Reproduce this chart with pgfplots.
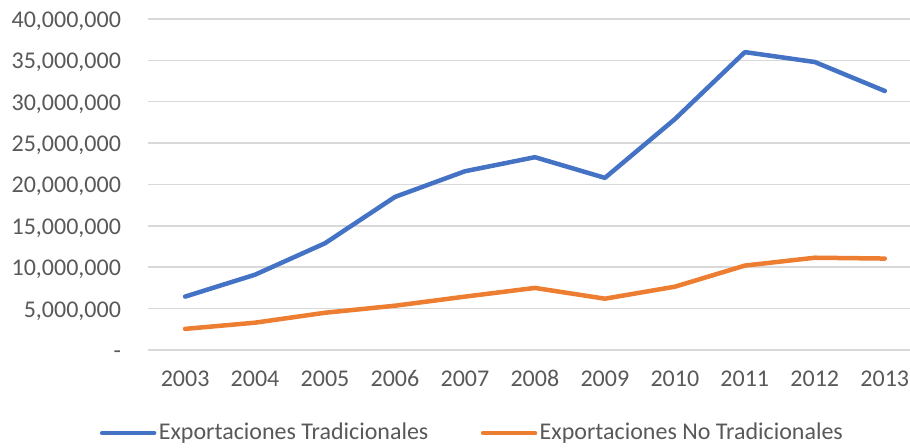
\documentclass[border=0pt]{standalone}
\usepackage{pgfplots}
\pgfplotsset{compat=1.18}
\usepackage{fontspec}
\setmainfont{Carlito}
\definecolor{cblue}{HTML}{4472C4}
\definecolor{corange}{HTML}{ED7D31}
\definecolor{cgrid}{HTML}{D9D9D9}
\definecolor{ctext}{HTML}{595959}
\begin{document}
\begin{tikzpicture}
\begin{axis}[
  at={(74pt,49pt)}, anchor=south west,
  scale only axis, width=381pt, height=165.5pt,
  xmin=2002.47, xmax=2013.36,
  ymin=0, ymax=40000000,
  axis line style={draw=none},
  major tick length=0pt,
  xtick={2003,2004,...,2013},
  ytick={0,5000000,...,40000000},
  yticklabels={{\vphantom{0}-\hspace{5pt}},{5,000,000},{10,000,000},{15,000,000},{20,000,000},{25,000,000},{30,000,000},{35,000,000},{40,000,000}},
  scaled y ticks=false,
  /pgf/number format/.cd, 1000 sep={}, assume math mode=true, /pgfplots/.cd,
  ymajorgrids, grid style={cgrid, line width=0.75pt},
  tick label style={font=\fontsize{12}{14}\selectfont, text=ctext},
  yticklabel style={xshift=-10pt, text height=8.5pt, text depth=0pt},
  xticklabel style={yshift=-6pt, text height=8.5pt, text depth=0pt},
  legend columns=2,
  legend style={at={(0.426,-0.251)}, anchor=center, draw=none, font=\fontsize{12}{14}\selectfont, text=ctext,
    nodes={inner sep=1.2pt},
    /tikz/every even column/.append style={column sep=25pt}},
  legend image code/.code={\draw[#1, line width=2.25pt, line cap=round] (0pt,0pt) -- (26pt,0pt);},
  clip=false,
]
\addplot[cblue, line width=2.25pt, line cap=round, line join=round] coordinates {
(2003,6450000) (2004,9100000) (2005,12900000) (2006,18500000) (2007,21600000)
(2008,23300000) (2009,20800000) (2010,27900000) (2011,36000000) (2012,34800000) (2013,31300000)};
\addlegendentry{Exportaciones Tradicionales}
\addplot[corange, line width=2.25pt, line cap=round, line join=round] coordinates {
(2003,2550000) (2004,3300000) (2005,4500000) (2006,5350000) (2007,6450000)
(2008,7500000) (2009,6200000) (2010,7650000) (2011,10200000) (2012,11150000) (2013,11050000)};
\addlegendentry{Exportaciones No Tradicionales}
\end{axis}
\pgfresetboundingbox
\path (0,0) rectangle (455pt,224pt);
\end{tikzpicture}
\end{document}
